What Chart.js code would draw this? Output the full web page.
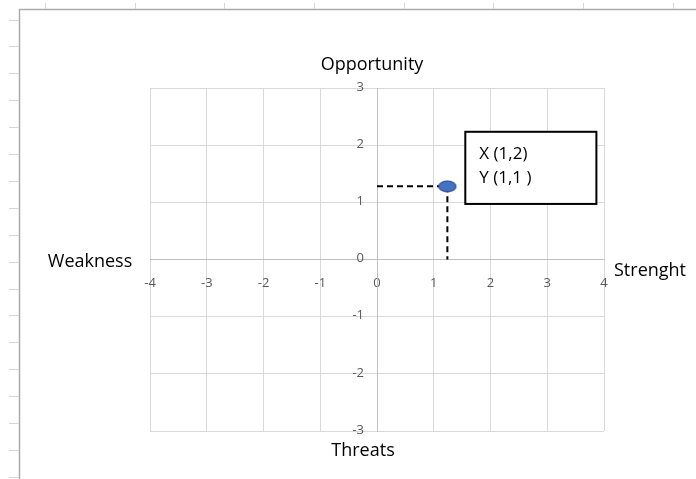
<!DOCTYPE html>
<html>
<head>
<meta charset="utf-8">
<script src="https://cdn.jsdelivr.net/npm/chart.js@4/dist/chart.umd.min.js"></script>
<style>
  html, body { margin: 0; padding: 0; background: #fff; }
  canvas { display: block; }
</style>
</head>
<body>
<canvas id="swot" width="696" height="479"></canvas>
<script>
// Données du graphique
const xTicks = [-4, -3, -2, -1, 0, 1, 2, 3, 4];
const yTicks = [-3, -2, -1, 0, 1, 2, 3];
const pointX = [1.24];
const pointY = [1.28];
const axisTitles = ["Opportunity", "Threats", "Weakness", "Strenght"];
const boxLines = ["X (1,2)", "Y (1,1 )"];

// Ellipse bleue utilisée comme pointStyle
const dot = document.createElement('canvas');
dot.width = 20; dot.height = 13;
const dctx = dot.getContext('2d');
dctx.beginPath();
dctx.ellipse(10, 6.5, 8.6, 5.4, 0, 0, Math.PI * 2);
dctx.fillStyle = '#4472c4';
dctx.fill();
dctx.lineWidth = 1.2;
dctx.strokeStyle = '#2f528f';
dctx.stroke();

// Fond "feuille Excel" : bordures et petits traits
const sheetPlugin = {
  id: 'sheet',
  beforeDraw(chart) {
    const ctx = chart.ctx;
    ctx.save();
    ctx.fillStyle = '#fff';
    ctx.fillRect(0, 0, chart.width, chart.height);
    ctx.strokeStyle = '#ababab';
    ctx.lineWidth = 1.5;
    ctx.beginPath();
    ctx.moveTo(19.5, chart.height);
    ctx.lineTo(19.5, 9.5);
    ctx.lineTo(chart.width, 9.5);
    ctx.stroke();
    ctx.strokeStyle = '#d6d6d6';
    ctx.lineWidth = 1;
    ctx.beginPath();
    for (let y = 19.5; y < chart.height; y += 26.9) {
      ctx.moveTo(9, Math.round(y) + 0.5);
      ctx.lineTo(19, Math.round(y) + 0.5);
    }
    for (let x = 45; x < chart.width; x += 89.7) {
      ctx.moveTo(Math.round(x) + 0.5, 3);
      ctx.lineTo(Math.round(x) + 0.5, 9);
    }
    ctx.stroke();
    ctx.restore();
  }
};

// Étiquettes de l'axe Y, titres des axes et cadre de texte
const labelsPlugin = {
  id: 'labels',
  afterDatasetsDraw(chart) {
    const ctx = chart.ctx;
    const xs = chart.scales.x, ys = chart.scales.y;
    const x0 = xs.getPixelForValue(0), y0 = ys.getPixelForValue(0);
    ctx.save();

    ctx.fillStyle = '#595959';
    ctx.font = '13px "Open Sans"';
    ctx.textAlign = 'right';
    ctx.textBaseline = 'middle';
    ys.ticks.forEach(t => {
      ctx.fillText(String(t.value), x0 - 13, ys.getPixelForValue(t.value) - 1);
    });

    ctx.fillStyle = '#000';
    ctx.font = '18px "Open Sans"';
    ctx.textAlign = 'center';
    ctx.fillText(axisTitles[0], x0 - 5, ys.getPixelForValue(3) - 23);
    ctx.fillText(axisTitles[1], x0 - 14, ys.getPixelForValue(-3) + 20);
    ctx.fillText(axisTitles[2], 90, y0 + 2);
    ctx.textAlign = 'left';
    ctx.fillText(axisTitles[3], xs.getPixelForValue(4) + 10, y0 + 11);

    const l = xs.getPixelForValue(1.556), r = xs.getPixelForValue(3.866);
    const t = ys.getPixelForValue(2.234), b = ys.getPixelForValue(0.972);
    ctx.fillStyle = '#fff';
    ctx.fillRect(l, t, r - l, b - t);
    ctx.strokeStyle = '#000';
    ctx.lineWidth = 2;
    ctx.strokeRect(l, t, r - l, b - t);
    ctx.fillStyle = '#000';
    ctx.font = '17px "Open Sans"';
    ctx.fillText(boxLines[0], l + 14, t + 22);
    ctx.fillText(boxLines[1], l + 14, t + 46);
    ctx.restore();
  }
};

const px = pointX[0], py = pointY[0];

new Chart(document.getElementById('swot'), {
  type: 'scatter',
  data: {
    datasets: [
      {
        data: [{ x: px, y: py }],
        pointStyle: dot,
        pointRadius: 9
      },
      {
        data: [{ x: 0, y: py }, { x: px, y: py }],
        showLine: true,
        borderColor: '#000',
        borderWidth: 2,
        borderDash: [6, 4],
        pointRadius: 0
      },
      {
        data: [{ x: px, y: py }, { x: px, y: 0 }],
        showLine: true,
        borderColor: '#000',
        borderWidth: 2,
        borderDash: [6, 4],
        pointRadius: 0
      }
    ]
  },
  options: {
    responsive: false,
    animation: false,
    events: [],
    layout: { padding: { left: 150, right: 92, top: 88, bottom: 48 } },
    plugins: { legend: { display: false }, tooltip: { enabled: false } },
    scales: {
      x: {
        type: 'linear',
        min: -4, max: 4,
        position: { y: 0 },
        afterFit: s => { s.height = 0; },
        afterBuildTicks: s => { s.ticks = xTicks.map(v => ({ value: v })); },
        grid: { color: '#d9d9d9', drawTicks: false },
        border: { color: '#bfbfbf', width: 1 },
        ticks: { color: '#595959', padding: 16, font: { family: 'Open Sans', size: 13 } }
      },
      y: {
        type: 'linear',
        min: -3, max: 3,
        position: { x: 0 },
        afterFit: s => { s.width = 0; },
        afterBuildTicks: s => { s.ticks = yTicks.map(v => ({ value: v })); },
        grid: { color: '#d9d9d9', drawTicks: false },
        border: { color: '#bfbfbf', width: 1 },
        ticks: { display: false }
      }
    }
  },
  plugins: [sheetPlugin, labelsPlugin]
});
</script>
</body>
</html>
